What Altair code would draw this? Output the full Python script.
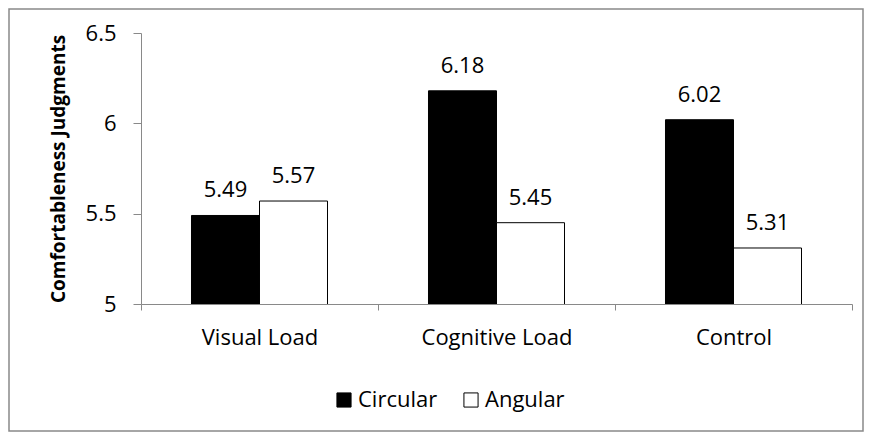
import altair as alt
import pandas as pd

categories = ["Visual Load", "Cognitive Load", "Control"]
series = ["Circular", "Angular"]
circular = [5.49, 6.18, 6.02]
angular = [5.57, 5.45, 5.31]
y_ticks = [5, 5.5, 6, 6.5]

rows = []
for c, v1, v2 in zip(categories, circular, angular):
    rows.append({"cat": c, "series": "Circular", "value": v1})
    rows.append({"cat": c, "series": "Angular", "value": v2})
df = pd.DataFrame(rows)

FONT = "Open Sans"
GRAY = "#898989"
W, H = 711, 271
FS = 22

x = alt.X("cat:N", sort=categories, title=None,
          scale=alt.Scale(paddingInner=0, paddingOuter=0),
          axis=alt.Axis(labelAngle=0, tickBand="extent", tickSize=6, labelPadding=17,
                        domainColor=GRAY, tickColor=GRAY, labelFont=FONT, labelFontSize=FS,
                        labelColor="black"))
xo = alt.XOffset("series:N", sort=series,
                 scale=alt.Scale(paddingInner=0, paddingOuter=0.7426))
y = alt.Y("value:Q", title="Comfortableness Judgments",
          scale=alt.Scale(domain=[5, 6.5], nice=False, zero=False),
          axis=alt.Axis(values=y_ticks, format="~g", grid=False, tickSize=8, labelPadding=17,
                        domainColor=GRAY, tickColor=GRAY, labelFont=FONT, labelFontSize=FS,
                        labelColor="black", titleFont=FONT, titleFontSize=19,
                        titleFontWeight="bold", titleColor="black",
                        titleX=-83, titleY=H / 2, titleAngle=-90,
                        titleAlign="center", titleBaseline="middle"))

bars = alt.Chart(df).mark_bar(stroke="black", strokeWidth=1, clip=True).encode(
    x=x, xOffset=xo, y=y,
    fill=alt.Fill("series:N", sort=series,
                  scale=alt.Scale(domain=series, range=["black", "white"]),
                  legend=alt.Legend(title=None, orient="none", legendX=192, legendY=356,
                                    direction="horizontal", symbolType="square",
                                    symbolSize=200, symbolStrokeColor="black",
                                    symbolStrokeWidth=1, labelFont=FONT, labelFontSize=FS,
                                    labelColor="black", columnPadding=22, labelOffset=3)),
)

labels = alt.Chart(df).mark_text(font=FONT, fontSize=FS, color="black",
                                 baseline="alphabetic", dy=-18).encode(
    x=x, xOffset=xo, y=y, text=alt.Text("value:Q", format=".2f"),
)

border = alt.Chart(alt.Data(values=[{}])).mark_rect(
    fillOpacity=0, stroke=GRAY, strokeWidth=1.5, clip=False
).encode(
    x=alt.value(-132), x2=alt.value(722), y=alt.value(-24), y2=alt.value(398),
)

chart = alt.layer(bars, labels, border).properties(
    width=W, height=H,
    autosize=alt.AutoSizeParams(type="none"),
    padding={"left": 133, "top": 25, "right": 12, "bottom": 128},
).configure_view(stroke=None)

chart.save("out.html", embed_options={"renderer": "svg", "actions": False})
